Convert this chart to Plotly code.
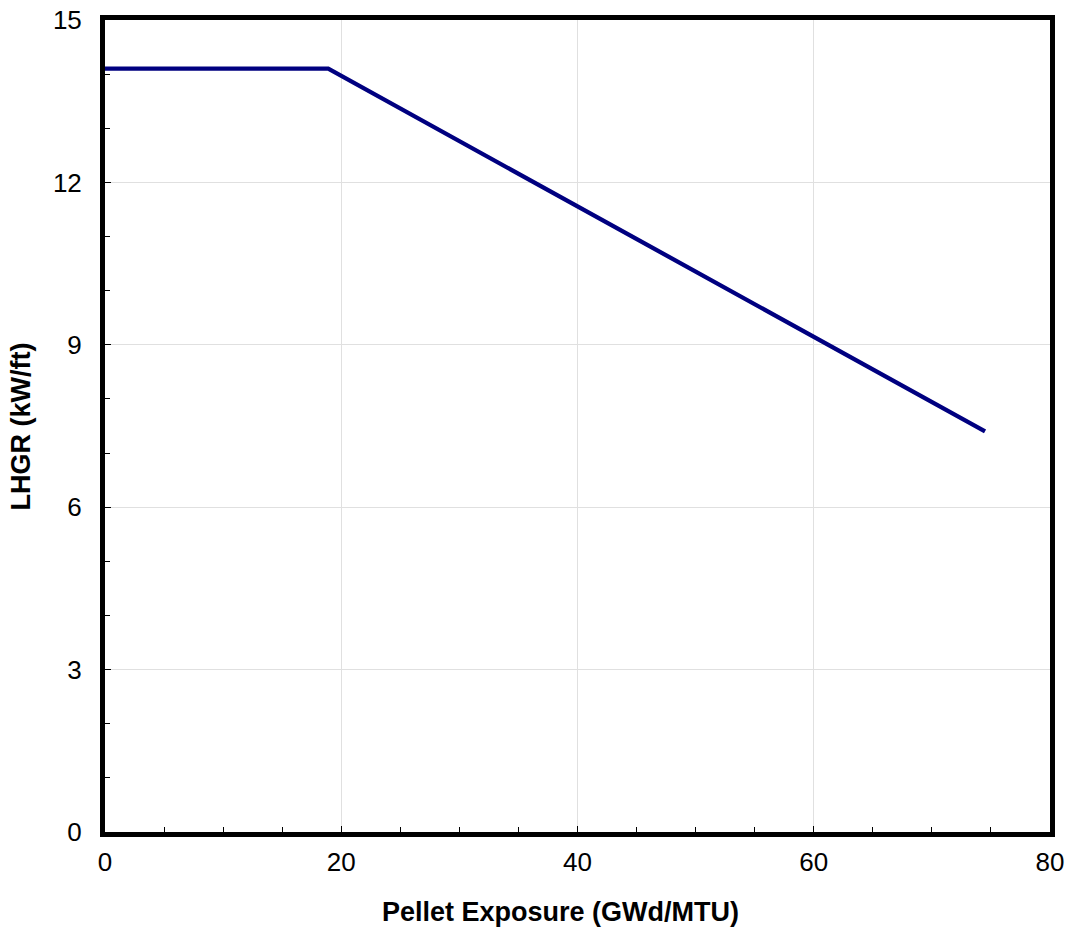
import plotly.graph_objects as go

exposure = [0.0, 18.9, 74.5]
lhgr = [14.1, 14.1, 7.4]

x_ticks = [0, 20, 40, 60, 80]
y_ticks = [0, 3, 6, 9, 12, 15]

x_title = "Pellet Exposure (GWd/MTU)"
y_title = "LHGR (kW/ft)"

fig = go.Figure()
fig.add_trace(go.Scatter(x=exposure, y=lhgr, mode="lines",
                         line=dict(color="#000080", width=4.3),
                         showlegend=False, hoverinfo="skip"))

fig.update_layout(
    width=1072, height=931,
    margin=dict(l=105, r=22, t=20, b=99, autoexpand=False),
    plot_bgcolor="white", paper_bgcolor="white",
    font=dict(family="Arial, Liberation Sans, sans-serif", color="black"),
)
fig.update_xaxes(
    range=[0, 80], tickvals=x_ticks, ticks="inside", ticklen=6, tickwidth=1,
    tickcolor="black", showline=True, linecolor="black", linewidth=5, mirror=True,
    showgrid=True, gridcolor="#e0e0e0", gridwidth=1, zeroline=False,
    tickfont=dict(size=26), automargin=False, ticklabeloverflow="allow",
    ticklabelstandoff=3,
    minor=dict(dtick=5, ticks="inside", ticklen=5, tickcolor="black", showgrid=False),
)
fig.update_yaxes(
    range=[0, 15], tickvals=y_ticks, ticks="inside", ticklen=6, tickwidth=1,
    tickcolor="black", showline=True, linecolor="black", linewidth=5, mirror=True,
    showgrid=True, gridcolor="#e0e0e0", gridwidth=1, zeroline=False,
    tickfont=dict(size=26), automargin=False, ticklabeloverflow="allow",
    ticklabelstandoff=13,
    minor=dict(dtick=1, ticks="inside", ticklen=5, tickcolor="black", showgrid=False),
)
fig.add_annotation(text="<b>" + x_title + "</b>", xref="paper", yref="paper",
                   x=0.4815, y=-0.0985, xanchor="center", yanchor="middle",
                   showarrow=False, font=dict(size=27))
fig.add_annotation(text="<b>" + y_title + "</b>", xref="paper", yref="paper",
                   x=-0.0884, y=0.5, xanchor="center", yanchor="middle",
                   textangle=-90, showarrow=False, font=dict(size=27))

fig.write_html("out.html",
               config={"displayModeBar": False},
               post_script="document.body.style.margin='0';document.body.style.overflow='hidden';")
